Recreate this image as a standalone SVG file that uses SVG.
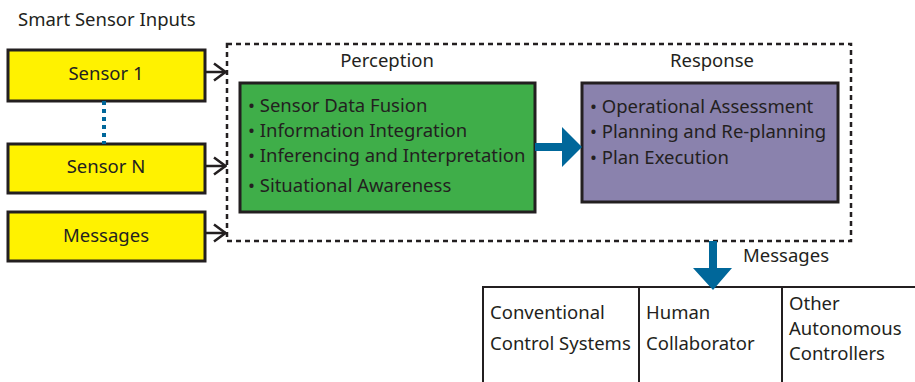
<svg xmlns="http://www.w3.org/2000/svg" width="915" height="382" viewBox="0 0 915 382">
<style>
text { font-family: "Noto Sans", "Open Sans", sans-serif; fill: #231f20; font-size: 18.5px; }
.yb { fill: #fff200; stroke: #231f20; stroke-width: 3; }
.open { fill: none; stroke: #231f20; stroke-width: 2.5; }
.blue { fill: #00679a; }
.out { fill: #fff; stroke: #231f20; stroke-width: 2; }
</style>
<defs>
<marker id="oa" viewBox="0 0 14 20" refX="13" refY="10" markerWidth="14" markerHeight="20" markerUnits="userSpaceOnUse" orient="auto">
<path d="M1 1.5 L12.5 10 L1 18.5" fill="none" stroke="#231f20" stroke-width="2.5"/>
</marker>
</defs>
<rect width="915" height="382" fill="#fff"/>
<text x="18" y="26">Smart Sensor Inputs</text>

<g id="container">
<rect x="227" y="44" width="624" height="197" fill="none" stroke="#231f20" stroke-width="2.5" stroke-dasharray="5,4"/>
<text x="387" y="67" text-anchor="middle">Perception</text>
<text x="712" y="67" text-anchor="middle">Response</text>
</g>

<g id="sensor1">
<rect class="yb" x="8" y="50" width="197" height="51"/>
<text x="106" y="80" text-anchor="middle">Sensor 1</text>
</g>
<g id="sensorN">
<rect class="yb" x="8" y="144" width="197" height="49"/>
<text x="106" y="173" text-anchor="middle">Sensor N</text>
</g>
<g id="messages-in">
<rect class="yb" x="8" y="212" width="197" height="49"/>
<text x="106" y="242" text-anchor="middle">Messages</text>
</g>

<g id="perception">
<rect x="240" y="83" width="295" height="129" fill="#3fae49" stroke="#231f20" stroke-width="3"/>
<text x="248" y="112">• Sensor Data Fusion</text>
<text x="248" y="137">• Information Integration</text>
<text x="248" y="162">• Inferencing and Interpretation</text>
<text x="248" y="192">• Situational Awareness</text>
</g>

<g id="response">
<rect x="582" y="83" width="256" height="119" fill="#8a82ad" stroke="#231f20" stroke-width="3"/>
<text x="590" y="113">• Operational Assessment</text>
<text x="590" y="138">• Planning and Re-planning</text>
<text x="590" y="164">• Plan Execution</text>
</g>

<g id="outputs">
<rect class="out" x="483" y="287" width="156" height="100"/>
<rect class="out" x="639" y="287" width="143" height="100"/>
<rect class="out" x="782" y="287" width="140" height="100"/>
<text x="490" y="319">Conventional</text>
<text x="490" y="350">Control Systems</text>
<text x="646" y="319">Human</text>
<text x="646" y="350">Collaborator</text>
<text x="789" y="310">Other</text>
<text x="789" y="335">Autonomous</text>
<text x="789" y="360">Controllers</text>
</g>

<g id="connectors">
<line x1="104" y1="101" x2="104" y2="144" stroke="#00679a" stroke-width="4" stroke-dasharray="4,4"/>
<line class="open" x1="205" y1="72" x2="226" y2="72" marker-end="url(#oa)"/>
<line class="open" x1="205" y1="166" x2="226" y2="166" marker-end="url(#oa)"/>
<line class="open" x1="205" y1="233" x2="226" y2="233" marker-end="url(#oa)"/>
<path class="blue" d="M535 143 L562 143 L562 127 L582 147 L562 167 L562 151 L535 151 Z"/>
<path class="blue" d="M709 241 L717 241 L717 268 L732 268 L713 290 L693 268 L709 268 Z"/>
<text x="743" y="262">Messages</text>
</g>
</svg>
